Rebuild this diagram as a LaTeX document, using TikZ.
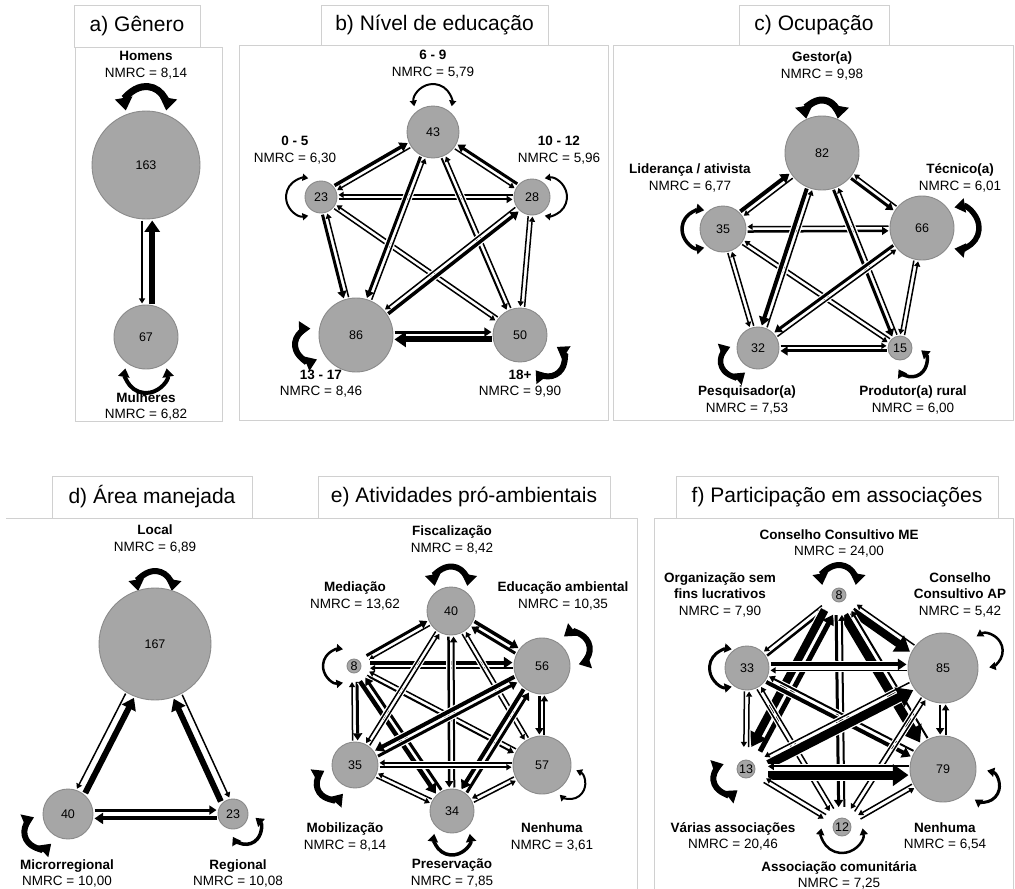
\documentclass[tikz,border=0pt]{standalone}
\usepackage{fontspec}
\setmainfont{Liberation Sans}
\usetikzlibrary{calc,arrows.meta}
\definecolor{ndfill}{HTML}{A6A6A6}
\definecolor{ndline}{HTML}{8A8A8A}
\definecolor{frm}{HTML}{D0D0D0}
\pgfdeclarelayer{back}
\pgfdeclarelayer{bg}
\pgfsetlayers{back,bg,main}
\newcommand\hg{1.4}
\newcommand\mknode[6]{%
  \node[ndst, minimum size=#4pt*2] (#1) at (#2,#3) {#5};%
  \expandafter\xdef\csname rad#1\endcsname{#6}}
\newcommand\edW[6]{\draw[white, line width=#5pt+2.4pt, shorten <=#3pt, shorten >=#4pt] ($(#1)!#6pt!-90:(#2)$) -- ($(#2)!#6pt!90:(#1)$);}
\newcommand\edB[6]{\draw[arrtip, line width=#5pt, shorten <=#3pt, shorten >=#4pt] ($(#1)!#6pt!-90:(#2)$) -- ($(#2)!#6pt!90:(#1)$);}
\newcommand\pr[5]{%
  \pgfmathsetmacro\oa{#5*(#3/2+\hg)}%
  \pgfmathsetmacro\ob{#5*(#4/2+\hg)}%
  \edef\ra{\csname rad#1\endcsname}\edef\rb{\csname rad#2\endcsname}%
  \edW{#1}{#2}{\ra}{\rb}{#3}{\oa}%
  \edW{#2}{#1}{\rb}{\ra}{#4}{\ob}%
  \edB{#1}{#2}{\ra}{\rb}{#3}{\oa}%
  \edB{#2}{#1}{\rb}{\ra}{#4}{\ob}}
\newcommand\lp[6]{%
  \draw[lpst, line width=#5pt] ($(#1)+(#2:#3)+(#2-#6:#4)$) arc[start angle=#2-#6, end angle=#2+#6, radius=#4];}
\tikzset{
  ndst/.style={circle, fill=ndfill, draw=ndline, line width=0.9pt, inner sep=0pt, font=\fontsize{12.5}{14}\selectfont},
  lb/.style={align=center, inner sep=0pt, font=\fontsize{13.5}{16.5}\selectfont},
  ttl/.style={draw=frm, fill=white, line width=1pt, inner sep=0pt, font=\fontsize{21}{24}\selectfont},
  frame/.style={draw=frm, line width=1pt},
  arrtip/.style={arrows={-Triangle[length=3pt 1.4,width=3pt 2]}},
  lpst/.style={arrows={Triangle[length=3pt 1.4,width=3pt 2]-Triangle[length=3pt 1.4,width=3pt 2]}}
}
\begin{document}
\begin{tikzpicture}[x=1pt,y=-1pt]
\useasboundingbox (0,0) rectangle (1015,889);
\begin{pgfonlayer}{back}
\fill[white] (0,0) rectangle (1015,889);
\end{pgfonlayer}
% ---------- frames and titles
\draw[frame] (75,47) rectangle (222,421);
\draw[frame] (239,45) rectangle (608,420);
\draw[frame] (613,45) rectangle (1013,420);
\draw[frame] (6,518) -- (637,518) -- (637,889);
\draw[frame] (654,889) -- (654,518) -- (1013,518) -- (1013,889);
\node[ttl, minimum width=126pt, minimum height=42pt] (ta) at (137,26) {a) Gênero};
\node[ttl, minimum width=227pt, minimum height=40pt] (tb) at (434.5,25) {b) Nível de educação};
\node[ttl, minimum width=150pt, minimum height=40pt] (tc) at (814,25) {c) Ocupação};
\node[ttl, minimum width=200pt, minimum height=42pt] (td) at (152,497) {d) Área manejada};
\node[ttl, minimum width=292pt, minimum height=42pt] (te) at (464,497) {e) Atividades pró-ambientais};
\node[ttl, minimum width=322pt, minimum height=42pt] (tf) at (837,497) {f) Participação em associações};

% ---------- panel a
\mknode{a163}{146}{165}{54}{163}{55.5}
\mknode{a67}{146}{337}{32}{67}{33.5}
\node[lb] (la1) at (146,65) {\textbf{Homens}\\NMRC = 8,14};
\node[lb] (la2) at (146,406.5) {\textbf{Mulheres}\\NMRC = 6,82};
\begin{pgfonlayer}{bg}
\renewcommand\hg{3.2}
\pr{a163}{a67}{1.5}{6}{1}
\lp{a163}{-90}{58}{20.5}{7}{100}
\lp{a67}{90}{35}{21}{4}{100}
\end{pgfonlayer}

% ---------- panel b
\mknode{b43}{433}{132}{26}{43}{27.5}
\mknode{b23}{321}{197}{16}{23}{17.5}
\mknode{b28}{532}{197}{18}{28}{19.5}
\mknode{b86}{356}{335}{37}{86}{38.5}
\mknode{b50}{520}{335}{27}{50}{28.5}
\node[lb] (lb1) at (433,64) {\textbf{6 - 9}\\NMRC = 5,79};
\node[lb] (lb2) at (295,150) {\textbf{0 - 5}\\NMRC = 6,30};
\node[lb] (lb3) at (559,150) {\textbf{10 - 12}\\NMRC = 5,96};
\node[lb] (lb4) at (321,383.5) {\textbf{13 - 17}\\NMRC = 8,46};
\node[lb] (lb5) at (520,383.5) {\textbf{18+}\\NMRC = 9,90};
\begin{pgfonlayer}{bg}
\renewcommand\hg{1.4}
\pr{b23}{b43}{3.5}{1.5}{-1}
\pr{b43}{b28}{1.5}{3}{1}
\pr{b23}{b28}{2}{1.5}{1}
\pr{b23}{b86}{3}{1.5}{1}
\pr{b23}{b50}{1.5}{1.5}{1}
\pr{b43}{b86}{3}{1.5}{1}
\pr{b43}{b50}{2}{1.5}{1}
\pr{b28}{b86}{1.5}{3.5}{1}
\pr{b28}{b50}{1.5}{1.5}{1}
\pr{b86}{b50}{3}{6}{-1}
\lp{b43}{-90}{29}{19}{2}{100}
\lp{b23}{180}{16}{19}{2}{100}
\lp{b28}{0}{16}{19}{2}{100}
\lp{b86}{168}{46}{16}{6}{100}
\lp{b50}{42}{38}{16}{6}{100}
\end{pgfonlayer}

% ---------- panel c
\mknode{c82}{822}{153}{37}{82}{38.5}
\mknode{c35}{723}{229}{23}{35}{24.5}
\mknode{c66}{922}{228}{32}{66}{33.5}
\mknode{c32}{758}{348}{21}{32}{22.5}
\mknode{c15}{900}{348}{12}{15}{13.5}
\node[lb] (lc1) at (822,66) {\textbf{Gestor(a)}\\NMRC = 9,98};
\node[lb] (lc2) at (690,178) {\textbf{Liderança / ativista}\\NMRC = 6,77};
\node[lb] (lc3) at (960,178) {\textbf{Técnico(a)}\\NMRC = 6,01};
\node[lb] (lc4) at (747,400) {\textbf{Pesquisador(a)}\\NMRC = 7,53};
\node[lb] (lc5) at (913,400) {\textbf{Produtor(a) rural}\\NMRC = 6,00};
\begin{pgfonlayer}{bg}
\renewcommand\hg{1.4}
\pr{c35}{c82}{4}{1.5}{-1}
\pr{c82}{c66}{3}{1.5}{1}
\pr{c35}{c66}{2.5}{1.5}{1}
\pr{c35}{c32}{1.5}{1.5}{1}
\pr{c35}{c15}{1.5}{1.5}{1}
\pr{c82}{c32}{4}{1.5}{1}
\pr{c82}{c15}{3}{1.5}{1}
\pr{c66}{c32}{3}{1.5}{1}
\pr{c66}{c15}{1.5}{1.5}{1}
\pr{c32}{c15}{1.5}{3}{-1}
\lp{c82}{-90}{37}{16}{7}{100}
\lp{c35}{180}{22}{19}{3.5}{100}
\lp{c66}{0}{36}{21}{5.5}{100}
\lp{c32}{150}{26}{15}{5.5}{100}
\lp{c15}{50}{18}{15}{3.5}{100}
\end{pgfonlayer}

% ---------- panel d
\mknode{d167}{155}{644}{56}{167}{57.5}
\mknode{d40}{68}{814}{25}{40}{26.5}
\mknode{d23}{233}{814}{15}{23}{16.5}
\node[lb] (ld1) at (155,539) {\textbf{Local}\\NMRC = 6,89};
\node[lb] (ld2) at (67,873.5) {\textbf{Microrregional}\\NMRC = 10,00};
\node[lb] (ld3) at (238,873.5) {\textbf{Regional}\\NMRC = 10,08};
\begin{pgfonlayer}{bg}
\renewcommand\hg{2.8}
\pr{d40}{d167}{6}{1.5}{1}
\pr{d23}{d167}{6}{1.5}{-1}
\renewcommand\hg{2.4}
\pr{d40}{d23}{3}{4}{-1}
\lp{d167}{-90}{56}{17}{6}{100}
\lp{d40}{147}{33}{16}{6}{100}
\lp{d23}{50}{20}{15}{3.5}{100}
\end{pgfonlayer}

% ---------- panel e
\mknode{e40}{451}{611}{24}{40}{25.5}
\mknode{e8}{354}{666}{7}{8}{16}
\mknode{e56}{542}{666}{28}{56}{29.5}
\mknode{e35}{355}{765}{23}{35}{24.5}
\mknode{e57}{542}{765}{29}{57}{30.5}
\mknode{e34}{452}{811}{22}{34}{23.5}
\node[lb] (le1) at (452,540) {\textbf{Fiscalização}\\NMRC = 8,42};
\node[lb] (le2) at (355,596) {\textbf{Mediação}\\NMRC = 13,62};
\node[lb] (le3) at (563,596) {\textbf{Educação ambiental}\\NMRC = 10,35};
\node[lb] (le4) at (345,837) {\textbf{Mobilização}\\NMRC = 8,14};
\node[lb] (le5) at (552,837) {\textbf{Nenhuma}\\NMRC = 3,61};
\node[lb] (le6) at (452,873) {\textbf{Preservação}\\NMRC = 7,85};
\begin{pgfonlayer}{bg}
\renewcommand\hg{1.4}
\pr{e8}{e40}{3}{1.5}{-1}
\pr{e40}{e56}{3.5}{3}{-1}
\pr{e8}{e56}{4}{1.5}{-1}
\pr{e8}{e35}{3}{1.5}{-1}
\pr{e8}{e57}{2}{1.5}{1}
\pr{e8}{e34}{4.5}{3}{1}
\pr{e40}{e35}{1.5}{1.5}{1}
\pr{e40}{e57}{1.5}{1.5}{1}
\pr{e40}{e34}{2.5}{2}{1}
\pr{e56}{e35}{4}{3}{1}
\pr{e56}{e57}{2.5}{2}{1}
\pr{e56}{e34}{4}{3}{1}
\pr{e35}{e57}{1.5}{1.5}{1}
\pr{e35}{e34}{1.5}{1.5}{1}
\pr{e57}{e34}{1.5}{1.5}{1}
\lp{e40}{-90}{28}{16.5}{6}{100}
\lp{e8}{180}{14}{17}{2.5}{100}
\lp{e56}{-28}{36}{16}{6}{100}
\lp{e35}{141}{30}{15}{6}{100}
\lp{e57}{34}{34}{15}{2}{100}
\lp{e34}{90}{26}{18}{3.5}{100}
\end{pgfonlayer}

% ---------- panel f
\mknode{fME}{839}{595}{7}{8}{20}
\mknode{f33}{747}{668}{22}{33}{23.5}
\mknode{f85}{943}{668}{35}{85}{36.5}
\mknode{f13}{746}{769}{9}{13}{22}
\mknode{f79}{943}{769}{33}{79}{34.5}
\mknode{f12}{842}{827}{9}{12}{20}
\node[lb] (lf1) at (839,543.5) {\textbf{Conselho Consultivo ME}\\NMRC = 24,00};
\node[lb] (lf2) at (720,594.5) {\textbf{Organização sem}\\\textbf{fins lucrativos}\\NMRC = 7,90};
\node[lb] (lf3) at (960,594.5) {\textbf{Conselho}\\\textbf{Consultivo AP}\\NMRC = 5,42};
\node[lb] (lf4) at (733,836.5) {\textbf{Várias associações}\\NMRC = 20,46};
\node[lb] (lf5) at (945,836.5) {\textbf{Nenhuma}\\NMRC = 6,54};
\node[lb] (lf6) at (839,875.5) {\textbf{Associação comunitária}\\NMRC = 7,25};
\begin{pgfonlayer}{bg}
\renewcommand\hg{1.6}
\pr{fME}{f33}{1.5}{2.5}{1}
\pr{fME}{f85}{8}{1.5}{1}
\pr{fME}{f13}{8}{5}{1}
\pr{fME}{f79}{9}{2}{1}
\pr{fME}{f12}{3}{2}{1}
\pr{f33}{f85}{4}{1.5}{-1}
\pr{f33}{f13}{1.5}{1.5}{1}
\pr{f33}{f79}{4}{2}{1}
\pr{f33}{f12}{1.5}{1.5}{1}
\pr{f13}{f85}{9}{1.5}{1}
\pr{f85}{f79}{2.5}{2}{1}
\pr{f85}{f12}{1.5}{1.5}{1}
\pr{f13}{f79}{9}{2}{1}
\pr{f13}{f12}{1.5}{1.5}{1}
\pr{f79}{f12}{1.5}{1.5}{1}
\lp{fME}{-90}{13}{17}{6}{100}
\lp{f33}{180}{18.5}{19}{3}{100}
\lp{f85}{-22}{46}{17}{2.5}{100}
\lp{f13}{152}{20}{15}{6}{100}
\lp{f79}{23}{44}{16}{3}{100}
\lp{f12}{90}{5}{21}{2.5}{100}
\end{pgfonlayer}
\end{tikzpicture}
\end{document}
